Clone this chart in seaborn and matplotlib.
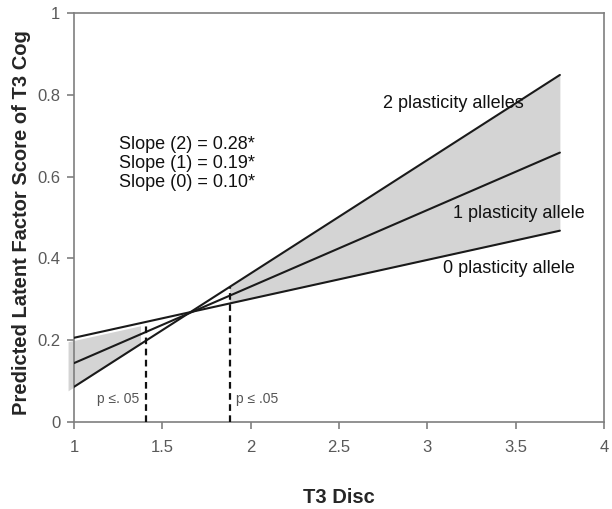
import numpy as np
import pandas as pd
import matplotlib
matplotlib.use("Agg")
import matplotlib.pyplot as plt
import matplotlib.transforms as mtransforms
import seaborn as sns

# -----------------------------
# Data
# -----------------------------

groups = ["0 plasticity allele", "1 plasticity allele", "2 plasticity alleles"]
disc_x = [1.0, 3.75]
cog_0 = [0.206, 0.468]
cog_1 = [0.144, 0.659]
cog_2 = [0.086, 0.849]

# regions of significance (Johnson-Neyman bounds)
sig_left = [1.0, 1.41]
sig_right = [1.88, 3.75]

slope_labels = ["Slope (2) = 0.28*", "Slope (1) = 0.19*", "Slope (0) = 0.10*"]
x_ticks = [1, 1.5, 2, 2.5, 3, 3.5, 4]
x_tick_labels = ["1", "1.5", "2", "2.5", "3", "3.5", "4"]
y_ticks = [0, 0.2, 0.4, 0.6, 0.8, 1]
y_tick_labels = ["0", "0.2", "0.4", "0.6", "0.8", "1"]

df = pd.DataFrame({
    "disc": disc_x * 3,
    "cog": cog_0 + cog_1 + cog_2,
    "group": np.repeat(groups, len(disc_x)),
})

# -----------------------------
# Plot
# -----------------------------

sns.set_style("white")
plt.rcParams["font.family"] = ["Liberation Sans", "DejaVu Sans"]

fig = plt.figure(figsize=(6.12, 5.09), dpi=100)
ax = fig.add_axes([0.121, 0.171, 0.866, 0.803])

shade = "#d4d4d4"

def line_at(xs, ys):
    return np.interp(xs, disc_x, ys)

# left shaded band (drawn with a small shadow-like offset)
xl = np.linspace(sig_left[0], sig_left[1], 20)
shift = mtransforms.ScaledTranslation(-0.06, -0.04, fig.dpi_scale_trans)
ax.fill_between(xl, line_at(xl, cog_0), line_at(xl, cog_2),
                color=shade, lw=0, transform=ax.transData + shift,
                zorder=1, clip_on=False)

# right shaded band
xr = np.linspace(sig_right[0], sig_right[1], 50)
ax.fill_between(xr, line_at(xr, cog_0), line_at(xr, cog_2),
                color=shade, lw=0, zorder=1)

sns.lineplot(data=df, x="disc", y="cog", hue="group",
             palette=["#1a1a1a"] * 3, linewidth=1.5,
             legend=False, ax=ax, zorder=3)

# dashed bounds
top_left = max(line_at(sig_left[1], cog_0), line_at(sig_left[1], cog_2))
top_right = max(line_at(sig_right[0], cog_0), line_at(sig_right[0], cog_2))
ax.vlines([sig_left[1]], 0, top_left, colors="#111111",
          linestyles=(0, (3, 2)), linewidth=1.6, zorder=4)
ax.vlines([sig_right[0]], 0, top_right, colors="#111111",
          linestyles=(0, (3, 2)), linewidth=1.6, zorder=4)

ax.text(1.13, 0.056, "p ≤. 05", fontsize=10, color="#555555", va="center")
ax.text(1.917, 0.056, "p ≤ .05", fontsize=10, color="#555555", va="center")

# group labels
ax.text(2.75, 0.78, groups[2], fontsize=13, color="#111111", va="center")
ax.text(3.145, 0.509, groups[1], fontsize=13, color="#111111", va="center")
ax.text(3.09, 0.375, groups[0], fontsize=13, color="#111111", va="center")

for i, s in enumerate(slope_labels):
    ax.text(1.255, 0.678 - i * 0.0465, s, fontsize=13, color="#111111", va="center")

# -----------------------------
# Axes styling
# -----------------------------

ax.set_xlim(1, 4)
ax.set_ylim(0, 1)
ax.set_xticks(x_ticks)
ax.set_xticklabels(x_tick_labels)
ax.set_yticks(y_ticks)
ax.set_yticklabels(y_tick_labels)

for sp in ax.spines.values():
    sp.set_visible(True)
    sp.set_color("#7f7f7f")
    sp.set_linewidth(1.2)

ax.tick_params(axis="both", direction="out", length=5, width=1.2,
               color="#7f7f7f", labelcolor="#595959", labelsize=12, pad=5,
               bottom=True, left=True)
ax.tick_params(axis="x", pad=8)

ax.set_xlabel("T3 Disc", fontsize=14.5, fontweight="bold", labelpad=24)
ax.set_ylabel("Predicted Latent Factor Score of T3 Cog", fontsize=14.5,
              fontweight="bold")
ax.yaxis.set_label_coords(-0.081, 0.487)

fig.savefig("out.png", dpi=100)
